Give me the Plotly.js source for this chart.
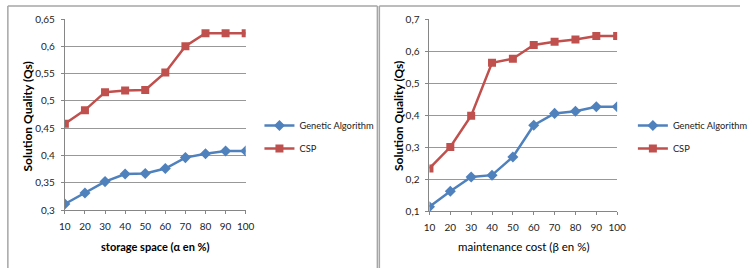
<!DOCTYPE html>
<html>
<head>
<meta charset="utf-8">
<script src="https://cdn.plot.ly/plotly-3.0.1.min.js"></script>
<style>html,body{margin:0;padding:0;background:#fff}#c{width:753px;height:268px}</style>
</head>
<body>
<div id="c"></div>
<script>
var categories = [10, 20, 30, 40, 50, 60, 70, 80, 90, 100];
var storageGA  = [0.311, 0.331, 0.352, 0.366, 0.367, 0.376, 0.396, 0.403, 0.408, 0.408];
var storageCSP = [0.458, 0.483, 0.516, 0.519, 0.520, 0.552, 0.600, 0.624, 0.624, 0.624];
var maintGA    = [0.113, 0.162, 0.206, 0.212, 0.269, 0.368, 0.405, 0.412, 0.426, 0.426];
var maintCSP   = [0.233, 0.300, 0.398, 0.563, 0.576, 0.619, 0.629, 0.636, 0.647, 0.647];
var leftTicks  = [0.3, 0.35, 0.4, 0.45, 0.5, 0.55, 0.6, 0.65];
var leftTickText = ['0,3', '0,35', '0,4', '0,45', '0,5', '0,55', '0,6', '0,65'];
var rightTicks = [0.1, 0.2, 0.3, 0.4, 0.5, 0.6, 0.7];
var rightTickText = ['0,1', '0,2', '0,3', '0,4', '0,5', '0,6', '0,7'];
var seriesNames = ['Genetic Algorithm', 'CSP'];
var leftXTitle = 'storage space (α en %)';
var rightXTitle = 'maintenance cost (β en %)';
var yTitle = 'Solution Quality (Qs)';

var W = 753, H = 268;
var blue = '#4F81BD', red = '#C0504D';
var FONT = 'Lato, "Liberation Sans", sans-serif';

function px(x){ return x / W; }
function py(y){ return 1 - y / H; }

function series(xs, ys, i, ax, leg){
  var isGA = i === 0;
  return {x: xs, y: ys, name: seriesNames[i], mode: 'lines+markers',
    xaxis: ax[0], yaxis: ax[1], legend: leg, legendgroup: leg + i,
    line: {color: isGA ? blue : red, width: 2.5},
    marker: {symbol: isGA ? 'diamond' : 'square', size: isGA ? 8.5 : 8, color: isGA ? blue : red}};
}

var traces = [
  series(categories, storageGA, 0, ['x', 'y'], 'legend'),
  series(categories, storageCSP, 1, ['x', 'y'], 'legend'),
  series(categories, maintGA, 0, ['x2', 'y2'], 'legend2'),
  series(categories, maintCSP, 1, ['x2', 'y2'], 'legend2')
];

var xCommon = {
  range: [10, 100], tickvals: categories, ticktext: categories.map(String),
  showgrid: false, zeroline: false, showline: true, linecolor: '#868686', linewidth: 1,
  ticks: 'outside', ticklen: 7, tickcolor: 'rgba(0,0,0,0)',
  minor: {tickvals: categories, ticks: 'outside', ticklen: 3, tickcolor: '#868686', showgrid: false},
  tickfont: {family: FONT, size: 10, color: '#222'}
};
var yCommon = {
  showgrid: true, gridcolor: '#989898', gridwidth: 1, zeroline: false,
  showline: true, linecolor: '#868686', linewidth: 1,
  ticks: 'outside', ticklen: 7, tickcolor: 'rgba(0,0,0,0)',
  tickfont: {family: FONT, size: 10, color: '#222'}
};

function ann(text, x, y, angle, bold, size){
  return {text: text, xref: 'paper', yref: 'paper', x: px(x), y: py(y), xanchor: 'center', yanchor: 'middle',
    showarrow: false, textangle: angle,
    font: {family: FONT, size: size, color: '#000', weight: bold ? 'bold' : 'normal'}};
}

var layout = {
  width: W, height: H,
  margin: {l: 0, r: 0, t: 0, b: 0},
  paper_bgcolor: '#fff', plot_bgcolor: '#fff',
  font: {family: FONT, size: 10, color: '#222'},
  xaxis: Object.assign({}, xCommon, {domain: [px(66), px(250)], anchor: 'y'}),
  yaxis: Object.assign({}, yCommon, {domain: [py(210), py(19)], anchor: 'x', range: [0.3, 0.65],
    tickvals: leftTicks, ticktext: leftTickText,
    minor: {tickvals: leftTicks, ticks: 'outside', ticklen: 3, tickcolor: '#868686', showgrid: false}}),
  xaxis2: Object.assign({}, xCommon, {domain: [px(437), px(628)], anchor: 'y2'}),
  yaxis2: Object.assign({}, yCommon, {domain: [py(211), py(19)], anchor: 'x2', range: [0.1, 0.7],
    tickvals: rightTicks, ticktext: rightTickText,
    minor: {tickvals: rightTicks, ticks: 'outside', ticklen: 3, tickcolor: '#868686', showgrid: false}}),
  legend: {x: px(264), y: py(111), xanchor: 'left', yanchor: 'top', bgcolor: 'rgba(0,0,0,0)',
    font: {family: FONT, size: 9.3, color: '#222'}, itemwidth: 30, tracegroupgap: 4},
  legend2: {x: px(644), y: py(111), xanchor: 'left', yanchor: 'top', bgcolor: 'rgba(0,0,0,0)',
    font: {family: FONT, size: 9.3, color: '#222'}, itemwidth: 30, tracegroupgap: 4},
  showlegend: true,
  annotations: [
    ann(leftXTitle, 158, 246, 0, true, 11),
    ann(rightXTitle, 533, 246, 0, false, 11.5),
    ann(yTitle, 29, 116, -90, true, 12),
    ann(yTitle, 406, 116, -90, true, 12)
  ],
  shapes: [
    {type: 'line', xref: 'paper', yref: 'paper', x0: px(8), x1: px(8), y0: py(6), y1: 0, line: {color: '#a6a6a6', width: 1.5}},
    {type: 'line', xref: 'paper', yref: 'paper', x0: px(8), x1: px(384), y0: py(6), y1: py(6), line: {color: '#a6a6a6', width: 1.5}},
    {type: 'line', xref: 'paper', yref: 'paper', x0: px(384), x1: px(384), y0: py(6), y1: 0, line: {color: '#a6a6a6', width: 1.5}},
    {type: 'line', xref: 'paper', yref: 'paper', x0: px(386), x1: px(386), y0: py(6), y1: 0, line: {color: '#a6a6a6', width: 1.5}},
    {type: 'line', xref: 'paper', yref: 'paper', x0: px(386), x1: 1, y0: py(6), y1: py(6), line: {color: '#a6a6a6', width: 1.5}}
  ]
};

Plotly.newPlot('c', traces, layout, {displayModeBar: false, staticPlot: true});
</script>
</body>
</html>
